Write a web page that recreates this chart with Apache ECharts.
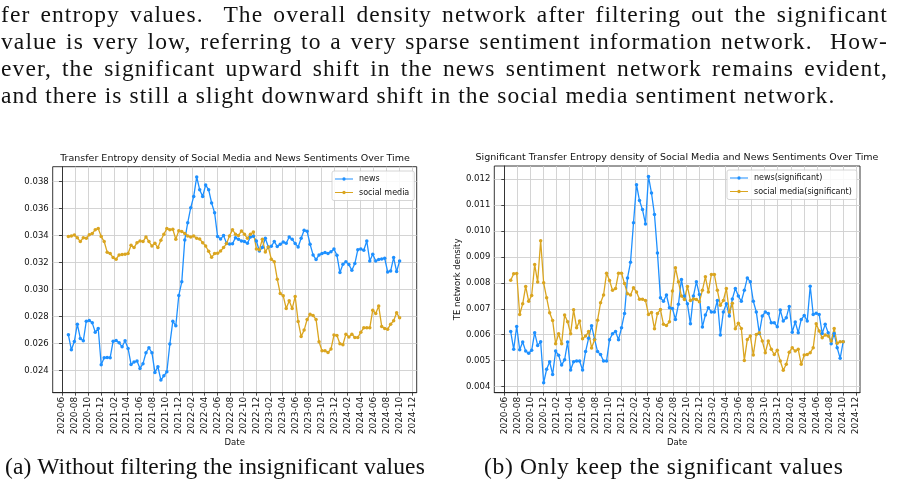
<!DOCTYPE html>
<html><head><meta charset="utf-8">
<script src="https://cdn.jsdelivr.net/npm/echarts@6/dist/echarts.min.js"></script>
<style>
html,body{margin:0;padding:0;background:#fff;width:897px;height:494px;overflow:hidden;}
#chart{position:absolute;left:0;top:0;width:897px;height:494px;}
.txt{position:absolute;font-family:"Liberation Serif",serif;font-size:23.5px;line-height:27px;color:#111;white-space:nowrap;letter-spacing:1.1px;}
.para{left:1px;width:887px;}
.j{text-align:justify;text-align-last:justify;white-space:normal;}
</style></head><body>
<div id="chart"></div>
<div class="txt para j" style="top:0.5px">fer entropy values.&nbsp; The overall density network after filtering out the significant</div>
<div class="txt para j" style="top:27.5px">value is very low, referring to a very sparse sentiment information network.&nbsp; How-</div>
<div class="txt para j" style="top:54.5px">ever, the significant upward shift in the news sentiment network remains evident,</div>
<div class="txt para" style="top:81.5px">and there is still a slight downward shift in the social media sentiment network.</div>
<div class="txt" style="top:452.5px;left:5px;letter-spacing:0.15px">(a) Without filtering the insignificant values</div>
<div class="txt" style="top:452.5px;left:484px;letter-spacing:0.65px">(b) Only keep the significant values</div>
<script>
// ---- data ----
const firstDate = '2020-07-01';
const stepDays = 14;
const xTickLabels = ['2020-06','2020-08','2020-10','2020-12','2021-02','2021-04','2021-06','2021-08','2021-10','2021-12','2022-02','2022-04','2022-06','2022-08','2022-10','2022-12','2023-02','2023-04','2023-06','2023-08','2023-10','2023-12','2024-02','2024-04','2024-06','2024-08','2024-10','2024-12'];
const yTickLabelsA = ['0.024','0.026','0.028','0.030','0.032','0.034','0.036','0.038'];
const yTickLabelsB = ['0.004','0.005','0.006','0.007','0.008','0.009','0.010','0.011','0.012'];
const titleA = 'Transfer Entropy density of Social Media and News Sentiments Over Time';
const titleB = 'Significant Transfer Entropy density of Social Media and News Sentiments Over Time';
const seriesNamesA = ['news','social media'];
const seriesNamesB = ['news(significant)','social media(significant)'];

const newsA = [0.02664,0.02553,0.02615,0.02743,0.02637,0.02620,0.02765,0.02770,0.02753,0.02684,0.02711,0.02442,0.02494,0.02496,0.02494,0.02617,0.02622,0.02605,0.02575,0.02620,0.02563,0.02444,0.02462,0.02469,0.02415,0.02450,0.02531,0.02568,0.02531,0.02385,0.02427,0.02328,0.02360,0.02390,0.02595,0.02765,0.02731,0.02956,0.03057,0.03368,0.03496,0.03607,0.03691,0.03835,0.03741,0.03691,0.03775,0.03741,0.03642,0.03570,0.03393,0.03375,0.03400,0.03343,0.03338,0.03340,0.03385,0.03373,0.03360,0.03356,0.03343,0.03390,0.03395,0.03360,0.03286,0.03311,0.03380,0.03316,0.03321,0.03356,0.03319,0.03336,0.03353,0.03343,0.03390,0.03373,0.03341,0.03316,0.03380,0.03440,0.03432,0.03336,0.03257,0.03222,0.03257,0.03267,0.03274,0.03267,0.03281,0.03301,0.03254,0.03126,0.03188,0.03207,0.03185,0.03143,0.03193,0.03296,0.03301,0.03291,0.03360,0.03212,0.03262,0.03212,0.03222,0.03227,0.03232,0.03131,0.03138,0.03237,0.03133,0.03212];
const socialA = [0.03393,0.03398,0.03405,0.03385,0.03356,0.03385,0.03380,0.03407,0.03415,0.03444,0.03452,0.03393,0.03356,0.03277,0.03267,0.03237,0.03225,0.03257,0.03259,0.03262,0.03267,0.03328,0.03311,0.03348,0.03360,0.03356,0.03390,0.03356,0.03323,0.03343,0.03311,0.03365,0.03410,0.03452,0.03444,0.03447,0.03373,0.03437,0.03430,0.03415,0.03398,0.03390,0.03398,0.03380,0.03375,0.03348,0.03323,0.03284,0.03240,0.03267,0.03269,0.03286,0.03311,0.03341,0.03398,0.03444,0.03410,0.03400,0.03435,0.03410,0.03380,0.03410,0.03427,0.03301,0.03296,0.03373,0.03279,0.03316,0.03225,0.03207,0.03077,0.02970,0.02953,0.02859,0.02916,0.02859,0.02948,0.02763,0.02652,0.02699,0.02778,0.02817,0.02807,0.02778,0.02612,0.02546,0.02546,0.02533,0.02558,0.02662,0.02659,0.02598,0.02590,0.02669,0.02647,0.02669,0.02644,0.02644,0.02684,0.02716,0.02716,0.02716,0.02847,0.02822,0.02877,0.02726,0.02711,0.02706,0.02743,0.02768,0.02827,0.02790];
const newsB = [0.00612,0.00544,0.00632,0.00542,0.00572,0.00537,0.00529,0.00540,0.00608,0.00559,0.00573,0.00415,0.00467,0.00496,0.00447,0.00537,0.00521,0.00483,0.00504,0.00572,0.00464,0.00496,0.00499,0.00499,0.00464,0.00535,0.00586,0.00635,0.00583,0.00535,0.00524,0.00499,0.00499,0.00581,0.00604,0.00612,0.00581,0.00627,0.00682,0.00819,0.00879,0.01031,0.01178,0.01117,0.01082,0.01027,0.01210,0.01146,0.01063,0.00915,0.00742,0.00729,0.00753,0.00704,0.00701,0.00659,0.00717,0.00813,0.00749,0.00719,0.00642,0.00749,0.00804,0.00755,0.00630,0.00676,0.00704,0.00688,0.00688,0.00732,0.00599,0.00688,0.00719,0.00672,0.00738,0.00778,0.00749,0.00729,0.00771,0.00819,0.00804,0.00729,0.00688,0.00605,0.00672,0.00688,0.00682,0.00646,0.00646,0.00631,0.00695,0.00653,0.00665,0.00709,0.00610,0.00649,0.00608,0.00659,0.00674,0.00653,0.00787,0.00678,0.00683,0.00678,0.00605,0.00640,0.00608,0.00565,0.00605,0.00550,0.00509,0.00573];
const socialB = [0.00810,0.00835,0.00836,0.00678,0.00719,0.00786,0.00729,0.00751,0.00871,0.00803,0.00962,0.00800,0.00742,0.00685,0.00655,0.00565,0.00604,0.00565,0.00676,0.00650,0.00604,0.00696,0.00627,0.00653,0.00585,0.00595,0.00612,0.00549,0.00581,0.00656,0.00723,0.00753,0.00837,0.00809,0.00771,0.00778,0.00837,0.00837,0.00797,0.00758,0.00753,0.00781,0.00765,0.00737,0.00737,0.00732,0.00678,0.00686,0.00623,0.00682,0.00697,0.00640,0.00636,0.00650,0.00768,0.00858,0.00804,0.00749,0.00736,0.00786,0.00732,0.00738,0.00736,0.00727,0.00771,0.00823,0.00765,0.00832,0.00832,0.00771,0.00714,0.00732,0.00778,0.00688,0.00721,0.00623,0.00644,0.00624,0.00501,0.00582,0.00595,0.00522,0.00601,0.00608,0.00576,0.00531,0.00576,0.00544,0.00524,0.00540,0.00499,0.00463,0.00486,0.00533,0.00550,0.00537,0.00544,0.00486,0.00522,0.00524,0.00531,0.00550,0.00642,0.00614,0.00588,0.00599,0.00595,0.00576,0.00624,0.00567,0.00573,0.00573];

// ---- helpers ----
const DAY0 = Date.UTC(2020,5,1);
function dayOf(s){const p=s.split('-').map(Number);return (Date.UTC(p[0],p[1]-1,p[2]||1)-DAY0)/86400000;}
function xLabel(v){const d=new Date(DAY0+Math.round(v)*86400000);return d.getUTCFullYear()+'-'+String(d.getUTCMonth()+1).padStart(2,'0');}
const xTickVals = xTickLabels.map(dayOf);
const x0 = dayOf(firstDate);
const xs = newsA.map((_,i)=>x0+i*stepDays);
const pairs = arr => arr.map((v,i)=>[xs[i],v]);

const BLUE = '#1e90ff', GOLD = '#daa520';
const FONT = 'DejaVu Sans';
const AX = '#222', GRIDC = '#cfcfcf';
const LEG_ICON = 'path://M0,4.6L18,4.6L18,5.4L0,5.4Z M9,3.3A1.7,1.7,0,1,1,9,6.7A1.7,1.7,0,1,1,9,3.3Z';

function xAxisCfg(gi,min,max){
  return {type:'value',gridIndex:gi,min:min,max:max,
    axisLine:{show:true,onZero:false,lineStyle:{color:AX,width:0.9}},
    axisTick:{show:true,length:3,customValues:xTickVals,lineStyle:{color:AX,width:0.8}},
    axisLabel:{show:true,customValues:xTickVals,rotate:90,formatter:xLabel,fontSize:9,color:'#111',margin:4,fontFamily:FONT},
    splitLine:{show:true,lineStyle:{color:GRIDC,width:0.9}},
    name:'Date',nameLocation:'middle',nameGap:43,nameTextStyle:{fontSize:8.5,color:'#111',fontFamily:FONT}};
}
function yAxisCfg(gi,min,max,labels,name){
  const vals = labels.map(Number);
  const c = {type:'value',gridIndex:gi,min:min,max:max,
    axisLine:{show:true,lineStyle:{color:AX,width:0.9}},
    axisTick:{show:true,length:3,customValues:vals,lineStyle:{color:AX,width:0.8}},
    axisLabel:{show:true,customValues:vals,formatter:v=>{const k=vals.indexOf(v);return k>=0?labels[k]:v.toFixed(3);},fontSize:8.5,color:'#111',margin:4,fontFamily:FONT},
    splitLine:{show:true,lineStyle:{color:GRIDC,width:0.9}}};
  if(name){c.name=name;c.nameLocation='middle';c.nameGap=31;c.nameRotate=90;c.nameTextStyle={fontSize:8.5,color:'#111',fontFamily:FONT};}
  return c;
}
function lineSeries(name,gi,arr,color){
  return {type:'line',name:name,xAxisIndex:gi,yAxisIndex:gi,data:pairs(arr),symbol:'circle',symbolSize:3.5,showSymbol:true,
    lineStyle:{width:1.3,color:color},itemStyle:{color:color},z:3};
}
function legendCfg(names,left,top){
  return {data:names.map(n=>({name:n,icon:LEG_ICON})),orient:'vertical',left:left,top:top,itemWidth:18,itemHeight:4,itemGap:5.5,
    padding:[4,5,4,3],backgroundColor:'rgba(255,255,255,0.85)',borderColor:'#cccccc',borderWidth:0.8,borderRadius:2,
    textStyle:{fontSize:8,color:'#111',fontFamily:FONT,padding:[0,0,0,1]}};
}
const chart = echarts.init(document.getElementById('chart'),null,{renderer:'canvas'});
chart.setOption({
  animation:false,
  backgroundColor:'#fff',
  grid:[
    {left:52.7,top:166.7,width:364,height:226,show:true,borderColor:AX,borderWidth:0.9,containLabel:false},
    {left:494.3,top:166,width:365.7,height:226.7,show:true,borderColor:AX,borderWidth:0.9,containLabel:false}
  ],
  xAxis:[xAxisCfg(0,-43.6,1664.2),xAxisCfg(1,-46.7,1662.7)],
  yAxis:[yAxisCfg(0,0.022346,0.039113,yTickLabelsA,null),yAxisCfg(1,0.003767,0.0125,yTickLabelsB,'TE network density')],
  legend:[legendCfg(seriesNamesA,332,171),legendCfg(seriesNamesB,727,170)],
  graphic:[
    {type:'text',x:235,y:159,style:{text:titleA,fill:'#111',font:'9.5px "DejaVu Sans"',align:'center',verticalAlign:'middle'}},
    {type:'text',x:677,y:157.7,style:{text:titleB,fill:'#111',font:'9.5px "DejaVu Sans"',align:'center',verticalAlign:'middle'}}
  ],
  series:[
    lineSeries(seriesNamesA[0],0,newsA,BLUE),
    lineSeries(seriesNamesA[1],0,socialA,GOLD),
    lineSeries(seriesNamesB[0],1,newsB,BLUE),
    lineSeries(seriesNamesB[1],1,socialB,GOLD)
  ]
});
</script>
</body></html>
